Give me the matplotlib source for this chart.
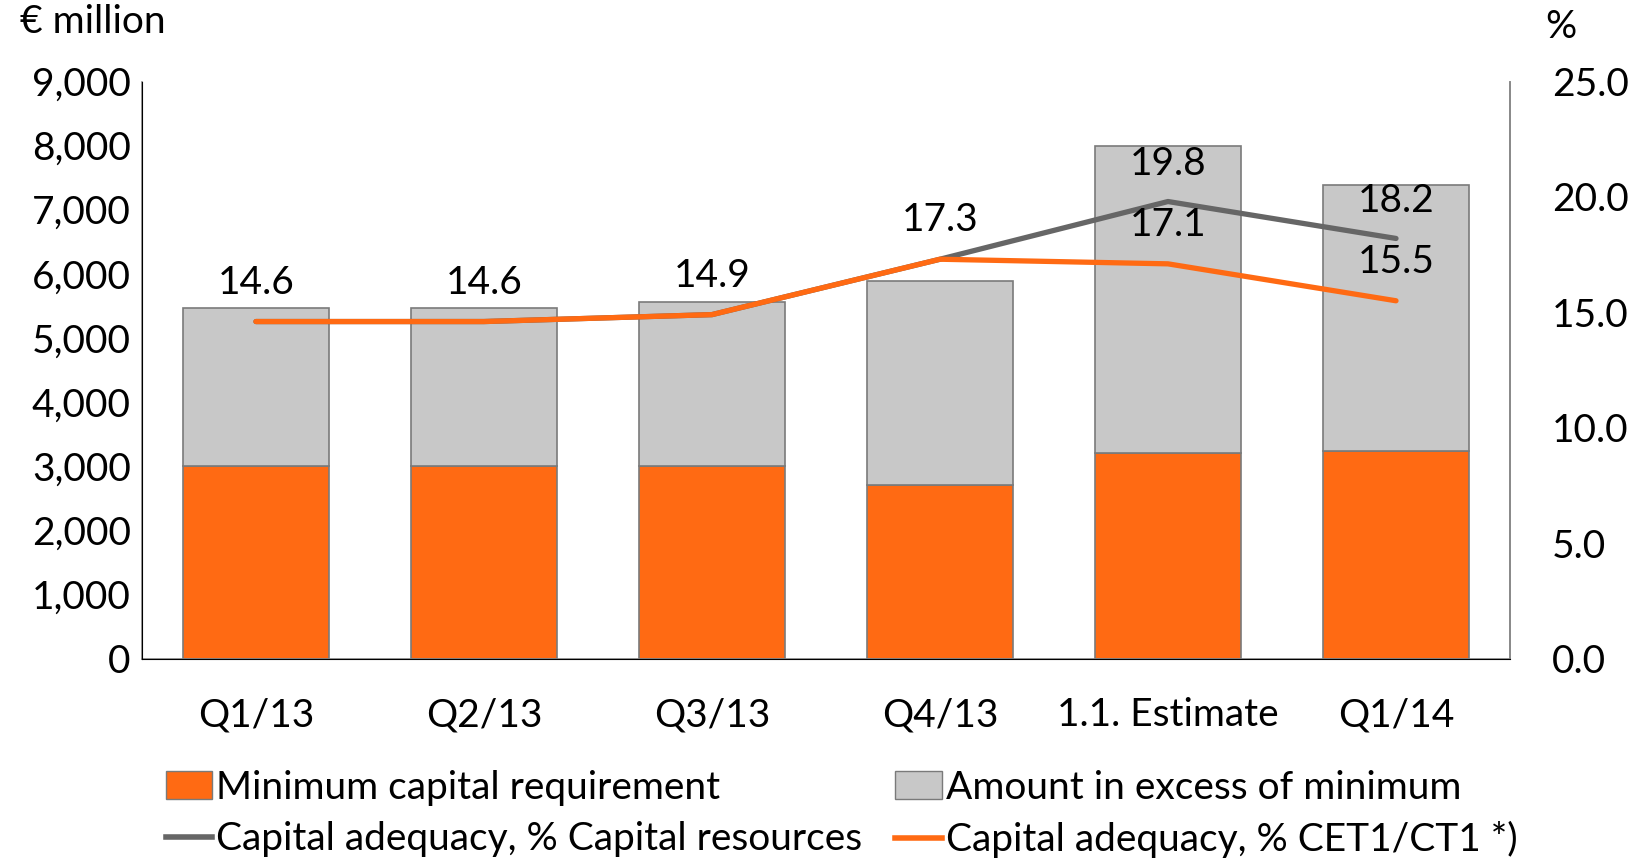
import numpy as np
import matplotlib
matplotlib.use("Agg")
import matplotlib.pyplot as plt
from matplotlib.patches import Patch
from matplotlib.lines import Line2D

plt.rcParams['font.family'] = ['Lato', 'DejaVu Sans']

categories = ['Q1/13', 'Q2/13', 'Q3/13', 'Q4/13', '1.1. Estimate', 'Q1/14']
min_capital = [3000, 3000, 3000, 2710, 3210, 3240]
excess = [2460, 2460, 2560, 3180, 4790, 4150]
ratio_total = [14.6, 14.6, 14.9, 17.3, 19.8, 18.2]
ratio_cet1 = [14.6, 14.6, 14.9, 17.3, 17.1, 15.5]

orange = '#ff6a13'
grey_bar = '#c8c8c8'
edge = '#7a7a7a'
grey_line = '#666666'
fs = 28

fig = plt.figure(figsize=(16.39, 8.58), dpi=100)
ax = fig.add_axes([0.0866, 0.2325, 0.8347, 0.6725])
x = np.arange(len(categories))
w = 0.64
ax.bar(x, min_capital, w, color=orange, edgecolor=edge, linewidth=1.2, zorder=2)
ax.bar(x, excess, w, bottom=min_capital, color=grey_bar, edgecolor=edge, linewidth=1.2, zorder=2)
ax.set_ylim(0, 9000)
ax.set_xlim(-0.5, len(categories) - 0.5)
ax.set_yticks(np.arange(0, 9001, 1000))
ax.set_yticklabels([f'{v:,}' for v in range(0, 9001, 1000)], fontsize=fs)
ax.set_xticks(x)
ax.set_xticklabels(categories, fontsize=fs)
ax.tick_params(axis='both', length=0)
ax.tick_params(axis='y', pad=8)
ax.tick_params(axis='x', pad=28)
ax.spines['top'].set_visible(False)
for s in ['left', 'right', 'bottom']:
    ax.spines[s].set_color('#888888')
    ax.spines[s].set_linewidth(1.2)

ax2 = ax.twinx()
ax2.set_ylim(0, 25)
ax2.set_yticks(np.arange(0, 25.1, 5))
ax2.set_yticklabels([f'{v:.1f}' for v in np.arange(0, 25.1, 5)], fontsize=fs)
ax2.tick_params(axis='y', length=0, pad=30)
ax2.spines['top'].set_visible(False)
ax2.spines['right'].set_color('#888888')
ax2.spines['right'].set_linewidth(1.2)
ax2.plot(x, ratio_total, color=grey_line, lw=3.8, solid_capstyle='round', zorder=3)
ax2.plot(x, ratio_cet1, color=orange, lw=3.8, solid_capstyle='round', zorder=4)
for xi, v in zip(x, ratio_cet1):
    ax2.annotate(f'{v:.1f}', (xi, v), xytext=(0, 28), textcoords='offset points',
                 ha='center', va='center', fontsize=fs)
for xi, v, c in zip(x, ratio_total, ratio_cet1):
    if v != c:
        ax2.annotate(f'{v:.1f}', (xi, v), xytext=(0, 27), textcoords='offset points',
                     ha='center', va='center', fontsize=fs)

fig.text(0.012, 0.995, '€ million', fontsize=fs, va='top', ha='left')
fig.text(0.9426, 0.99, '%', fontsize=fs, va='top', ha='left')

handles = [Patch(facecolor=orange, edgecolor=edge),
           Line2D([], [], color=grey_line, lw=4),
           Patch(facecolor=grey_bar, edgecolor=edge),
           Line2D([], [], color=orange, lw=4)]
labels = ['Minimum capital requirement', 'Capital adequacy, % Capital resources',
          'Amount in excess of minimum', 'Capital adequacy, % CET1/CT1 *)']
fig.legend(handles, labels, ncol=2, loc='upper left', bbox_to_anchor=(0.101, 0.103),
           frameon=False, fontsize=fs, handlelength=1.2, handletextpad=0.1,
           columnspacing=0.85, labelspacing=0.4, borderaxespad=0.0, borderpad=0.0)

fig.savefig('out.png', dpi=100)
